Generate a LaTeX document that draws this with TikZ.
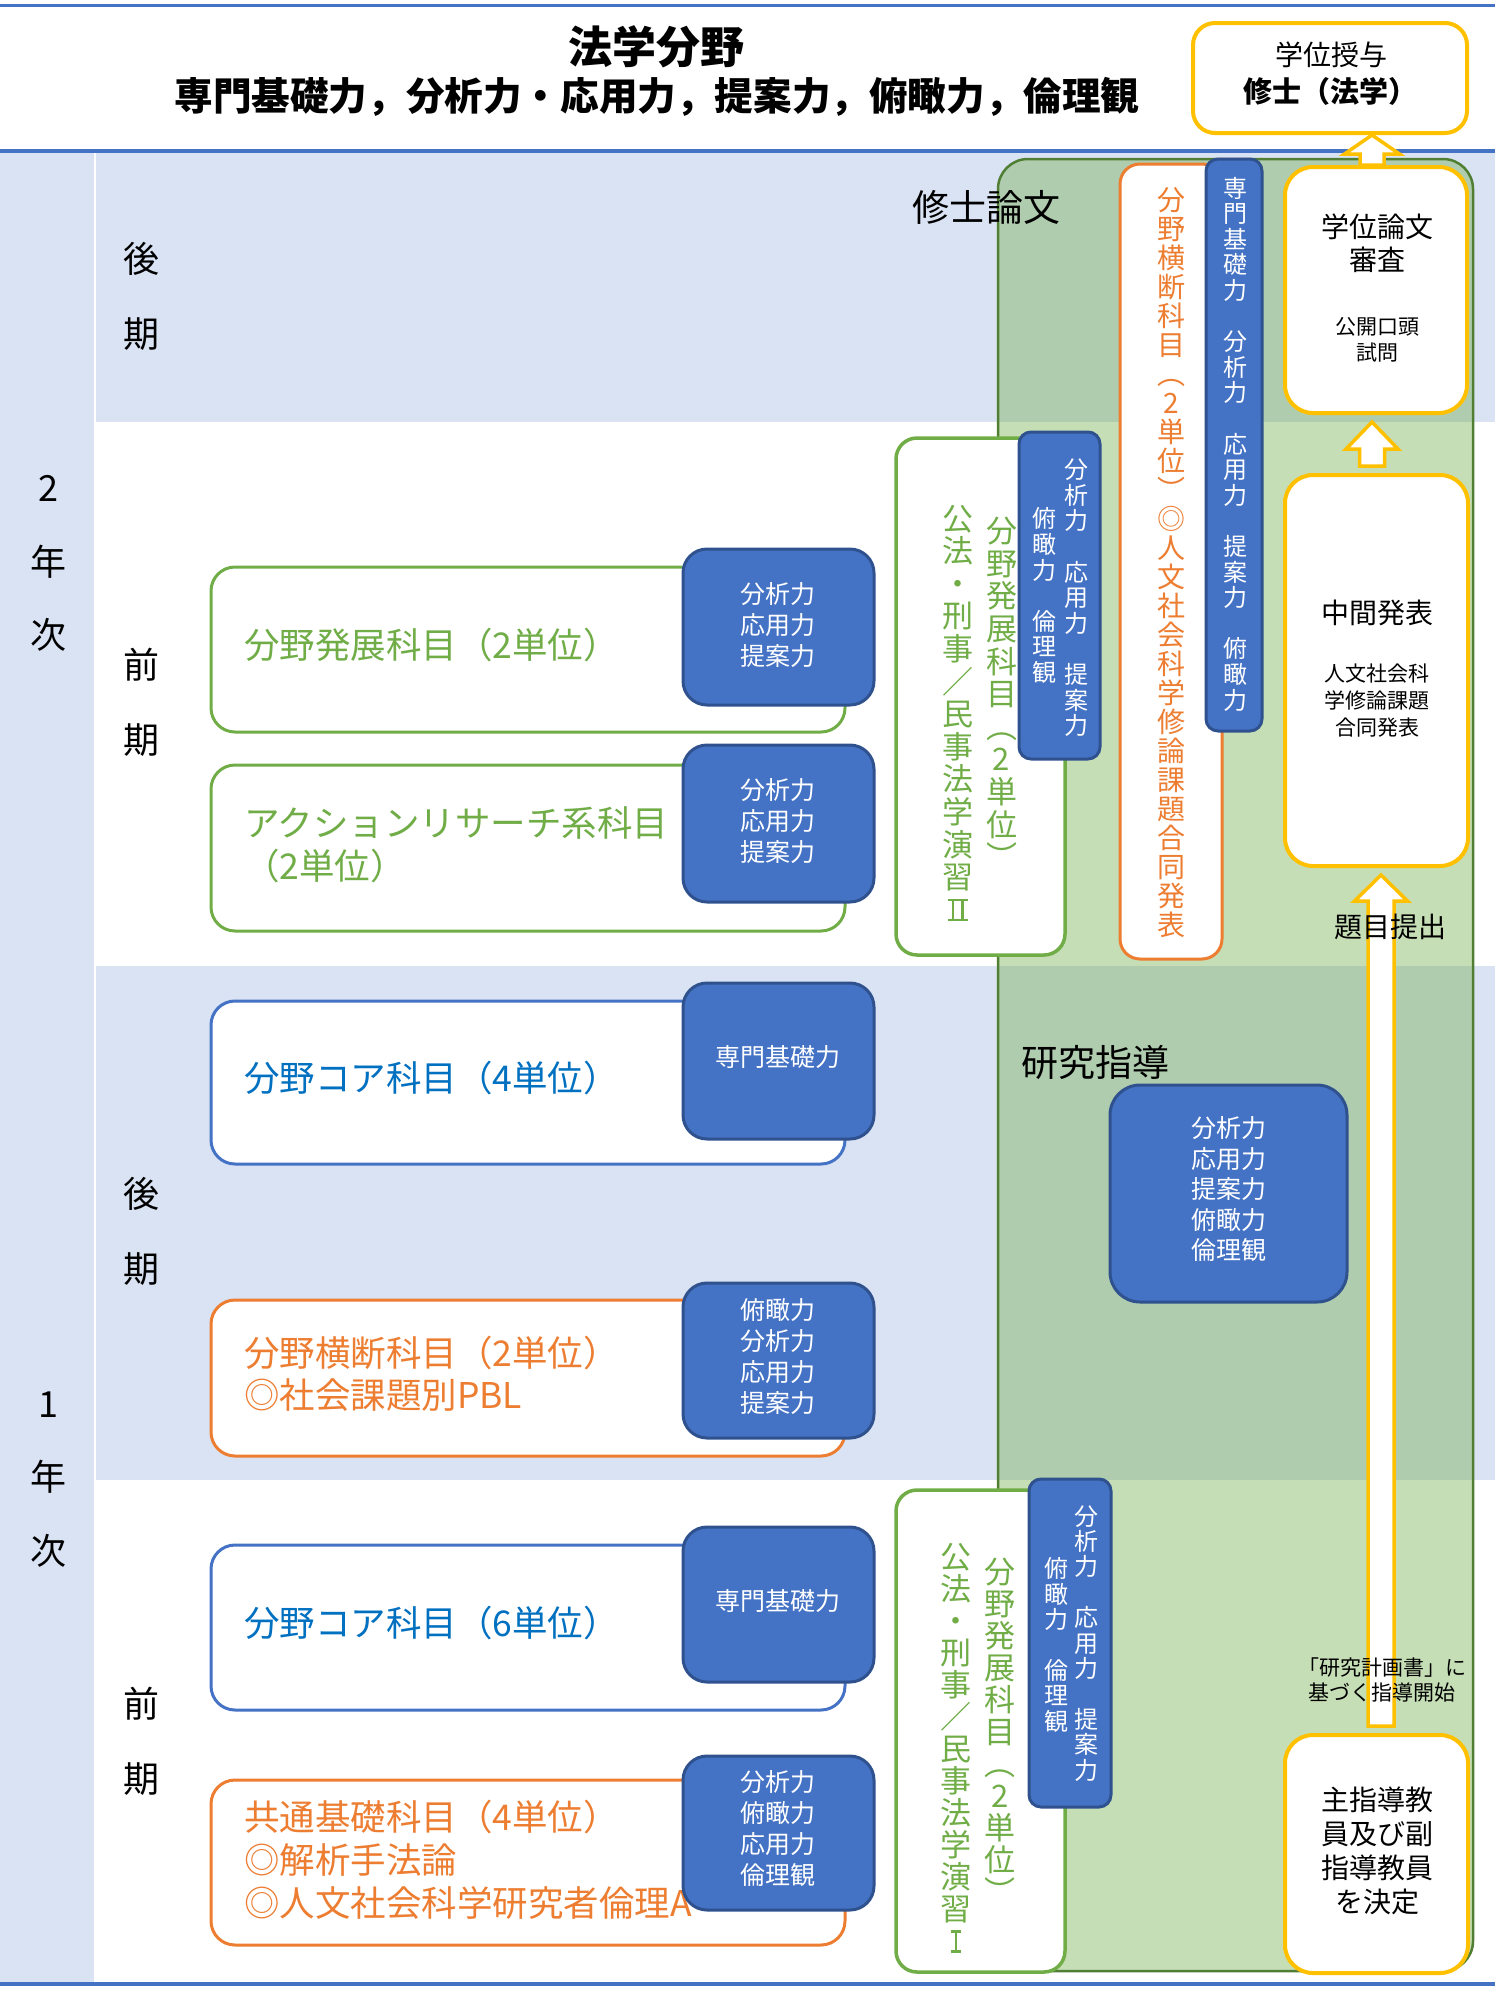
\documentclass[tikz,border=0pt]{standalone}
\usepackage{fontspec}
\setmainfont{Noto Sans CJK JP}
\usetikzlibrary{calc}
\definecolor{lb}{HTML}{DAE3F3}
\definecolor{bline}{HTML}{4472C4}
\definecolor{gfill}{HTML}{70AD47}
\definecolor{gborder}{HTML}{507E32}
\definecolor{yel}{HTML}{FFC000}
\definecolor{tagfill}{HTML}{4472C4}
\definecolor{tagborder}{HTML}{2F528F}
\definecolor{grn}{HTML}{70AD47}
\definecolor{org}{HTML}{ED7D31}
\definecolor{blu}{HTML}{4472C4}
\definecolor{blutext}{HTML}{0070C0}
\newcommand{\fz}[2]{\fontsize{#1pt}{#2pt}\selectfont}
% full-width Roman numerals built from rules
\newcommand{\RomII}{\hbox to 0.64em{\rlap{\rule[0.65em]{0.64em}{0.075em}}\rlap{\rule{0.64em}{0.075em}}\hskip0.13em\rule{0.075em}{0.72em}\hskip0.23em\rule{0.075em}{0.72em}\hss}}
\newcommand{\RomI}{\hbox to 0.34em{\rlap{\rule[0.65em]{0.34em}{0.075em}}\rlap{\rule{0.34em}{0.075em}}\hskip0.1325em\rule{0.075em}{0.72em}\hss}}
\makeatletter
\newlength\vt@step
\def\vt@end{\vt@end@}
\def\vt@loop#1{\ifx#1\vt@end\else\vt@one{#1}\expandafter\vt@loop\fi}
\def\vt@one#1{\vbox to\vt@step{\vss\hbox to 2em{\hss\rule[-0.12em]{0pt}{1em}\ifx*#1\relax\else#1\fi\hss}\vss}}
\newcommand\vtext[2]{\setlength\vt@step{#1}\vbox{\offinterlineskip\vt@loop#2\vt@end}}
\makeatother
\newcommand{\bx}[6][]{\node[#1, inner sep=0pt, minimum width={(#5-#3)*1pt}, minimum height={(#6-#4)*1pt}] (#2) at ({(#3+#5)/2},{(#4+#6)/2}) {};}
% block arrow: #1 base coordinate (gives x and bottom y), #2 tip coordinate (gives y), #3 shaft half, #4 head half, #5 head length
\newcommand{\barrow}[5]{\draw[yarrowst] let \p1=#1, \p2=#2 in
  (\x1-#3pt,\y1) -- (\x1-#3pt,\y2-#5pt) -- (\x1-#4pt,\y2-#5pt) -- (\x1,\y2) -- (\x1+#4pt,\y2-#5pt) -- (\x1+#3pt,\y2-#5pt) -- (\x1+#3pt,\y1) -- cycle;}
\tikzset{
  lbl/.style={inner sep=0pt},
  course/.style={draw, line width=3pt, rounded corners=24pt, fill=white},
  captag/.style={draw=tagborder, fill=tagfill, line width=3pt, rounded corners=24pt},
  vtag/.style={draw=tagborder, fill=tagfill, line width=3pt, rounded corners=12pt},
  vcourse/.style={draw, line width=3.5pt, rounded corners=21pt, fill=white},
  ybox/.style={draw=yel, line width=4pt, fill=white, rounded corners=28pt},
  yarrowst/.style={draw=yel, fill=white, line width=3.5pt, line join=miter},
  greenarea/.style={draw=gborder, line width=2.5pt, fill=gfill, fill opacity=0.4, rounded corners=30pt},
  tagtxt/.style={inner sep=0pt, text=white, align=center, font=\fz{25}{31}},
  ctxt/.style={inner sep=0pt, anchor=west, align=left, font=\fz{35.5}{43}},
}
\begin{document}
\begin{tikzpicture}[x=1pt,y=-1pt]
\useasboundingbox (0,0) rectangle (1501,1992);
% backgrounds
\fill[lb] (0,153) rectangle (95,1982);
\fill[lb] (95,153) rectangle (1495,421.6);
\fill[lb] (95,966) rectangle (1495,1480);
\draw[white, line width=1.5pt] (95,153) -- (95,1982);
% lines
\draw[bline, line width=3.5pt] (0,5.5) -- (1495,5.5);
\draw[bline, line width=4pt] (0,151) -- (1495,151);
\draw[bline, line width=4pt] (0,1984) -- (1495,1984);
% title
\node[lbl, font=\bfseries\fz{44}{50}] (title) at (656,47) {法学分野};
\node[lbl, font=\bfseries\fz{38.6}{44}] (subtitle) at (657,97) {専門基礎力，分析力・応用力，提案力，俯瞰力，倫理観};
% year / semester labels
\node[lbl, font=\fz{36}{40}] (y2) at (48,561.5) {\vtext{73.5pt}{2年次}};
\node[lbl, font=\fz{36}{40}] (y1) at (48,1477) {\vtext{73.5pt}{1年次}};
\node[lbl, font=\fz{36}{40}] (s4) at (141,296.5) {\vtext{75pt}{後期}};
\node[lbl, font=\fz{36}{40}] (s3) at (141,702.5) {\vtext{75pt}{前期}};
\node[lbl, font=\fz{36}{40}] (s2) at (141,1231.5) {\vtext{75pt}{後期}};
\node[lbl, font=\fz{36}{40}] (s1) at (141,1741.5) {\vtext{75pt}{前期}};
% green research area
\bx[greenarea]{res}{998}{159}{1473}{1971}
\node[lbl, font=\fz{37}{40}] (msl) at (986,207) {修士論文};
\node[lbl, font=\fz{37}{40}] (kss) at (1095,1062) {研究指導};
\bx[captag, rounded corners=30pt]{rtag}{1110}{1085}{1347}{1302}
\node[tagtxt, font=\fz{25}{30.5}] (rtagt) at (1228.5,1189) {分析力\\応用力\\提案力\\俯瞰力\\倫理観};
% left course boxes
\bx[course, draw=grn]{c1}{211}{567}{845}{732}
\node[ctxt, text=grn] (c1t) at (244,645) {分野発展科目（2単位）};
\bx[captag]{t1}{683}{549}{874}{705}
\node[tagtxt] (t1t) at (777.5,625) {分析力\\応用力\\提案力};
\bx[course, draw=grn]{c2}{211}{765}{845}{931}
\node[ctxt, text=grn] (c2t) at (244,844.5) {アクションリサーチ系科目\\（2単位）};
\bx[captag]{t2}{683}{745}{874}{902}
\node[tagtxt] (t2t) at (777.5,821.5) {分析力\\応用力\\提案力};
\bx[course, draw=blu]{c3}{211}{1001}{845}{1164}
\node[ctxt, text=blutext] (c3t) at (244,1078) {分野コア科目（4単位）};
\bx[captag]{t3}{683}{983}{874}{1139}
\node[tagtxt] (t3t) at (777.5,1057) {専門基礎力};
\bx[course, draw=org]{c4}{211}{1300}{845}{1456}
\node[ctxt, text=org, font=\fz{35.5}{42}] (c4t) at (244,1374) {分野横断科目（2単位）\\◎社会課題別PBL};
\bx[captag]{t4}{683}{1283}{874}{1438}
\node[tagtxt] (t4t) at (777.5,1356.5) {俯瞰力\\分析力\\応用力\\提案力};
\bx[course, draw=blu]{c5}{211}{1545}{845}{1710}
\node[ctxt, text=blutext] (c5t) at (244,1623) {分野コア科目（6単位）};
\bx[captag]{t5}{683}{1527}{874}{1682}
\node[tagtxt] (t5t) at (777.5,1601) {専門基礎力};
\bx[course, draw=org]{c6}{211}{1780}{845}{1945}
\node[ctxt, text=org] (c6t) at (244,1860) {共通基礎科目（4単位）\\◎解析手法論\\◎人文社会科学研究者倫理A};
\bx[captag]{t6}{683}{1756}{874}{1910}
\node[tagtxt] (t6t) at (777.5,1828) {分析力\\俯瞰力\\応用力\\倫理観};
% vertical boxes, 2nd year
\bx[vcourse, draw=grn]{va}{896}{438}{1065}{955}
\node[lbl, text=grn, font=\fz{31}{32}] (vat1) at (1001.5,694) {\vtext{32.6pt}{分野発展科目︵2単位︶}};
\node[lbl, text=grn, font=\fz{31}{32}] (vat2) at (957.6,714) {\vtext{32.6pt}{公法・刑事／民事法学演習\RomII}};
\bx[vtag]{vb}{1019}{432}{1100}{759}
\node[lbl, text=white, font=\fz{24}{25}] (vbt1) at (1076,597.5) {\vtext{25.6pt}{分析力*応用力*提案力}};
\node[lbl, text=white, font=\fz{24}{25}] (vbt2) at (1044,595.5) {\vtext{25.6pt}{俯瞰力*倫理観}};
\bx[vcourse, draw=org, line width=3pt, rounded corners=20pt]{vc}{1120}{164}{1222}{959}
\node[lbl, text=org, font=\fz{28}{29}] (vct) at (1171,562.5) {\vtext{29pt}{分野横断科目︵2単位︶◎人文社会科学修論課題合同発表}};
\bx[vtag]{vd}{1206}{159}{1262}{731}
\node[lbl, text=white, font=\fz{24}{25}] (vdt) at (1235,444) {\vtext{25.6pt}{専門基礎力*分析力*応用力*提案力*俯瞰力}};
% vertical boxes, 1st year
\bx[vcourse, draw=grn]{ve}{896}{1490}{1065}{1972}
\node[lbl, text=grn, font=\fz{31}{32}] (vet1) at (1000,1732) {\vtext{32pt}{分野発展科目︵2単位︶}};
\node[lbl, text=grn, font=\fz{31}{32}] (vet2) at (956,1749) {\vtext{32pt}{公法・刑事／民事法学演習\RomI}};
\bx[vtag]{vf}{1029}{1479}{1111}{1807}
\node[lbl, text=white, font=\fz{24}{25}] (vft1) at (1086.5,1643) {\vtext{25.4pt}{分析力*応用力*提案力}};
\node[lbl, text=white, font=\fz{24}{25}] (vft2) at (1056,1645) {\vtext{25.4pt}{俯瞰力*倫理観}};
% yellow flow boxes
\bx[ybox, rounded corners=22pt]{deg}{1193}{23}{1467}{133}
\node[lbl, font=\fz{28}{32}] (degt1) at (1331,55) {学位授与};
\node[lbl, font=\bfseries\fz{29}{32}] (degt2) at (1330,91) {修士（法学）};
\bx[ybox]{thesis}{1285}{167}{1467}{413}
\node[lbl, align=center, font=\fz{28}{33}] (th1) at (1377,243.5) {学位論文\\審査};
\node[lbl, align=center, font=\fz{21}{26}] (th2) at (1377,340) {公開口頭\\試問};
\bx[ybox]{mid}{1285}{475}{1468}{866}
\node[lbl, font=\fz{28}{32}] (mid1) at (1377,613) {中間発表};
\node[lbl, align=center, font=\fz{21}{27}] (mid2) at (1377,701) {人文社会科\\学修論課題\\合同発表};
\bx[ybox]{sup}{1285}{1735}{1468}{1973}
\node[lbl, align=center, font=\fz{28}{34}] (supt) at (1377,1850.5) {主指導教\\員及び副\\指導教員\\を決定};
% arrows
\barrow{($(thesis.north)+(-4,0)$)}{(deg.south)}{12}{27.5}{19}
\barrow{($(mid.north)+(-4.5,-7)$)}{($(thesis.south)+(0,7)$)}{12.5}{26}{27}
\barrow{($(sup.north)+(4.5,-7)$)}{($(mid.south)+(0,7)$)}{13}{26.5}{26}
\node[lbl, font=\fz{28}{32}] (dai) at (1390,927) {題目提出};
\node[lbl, align=center, font=\fz{21}{25}] (plan) at (1382,1679.5) {「研究計画書」に\\基づく指導開始};
\end{tikzpicture}
\end{document}
